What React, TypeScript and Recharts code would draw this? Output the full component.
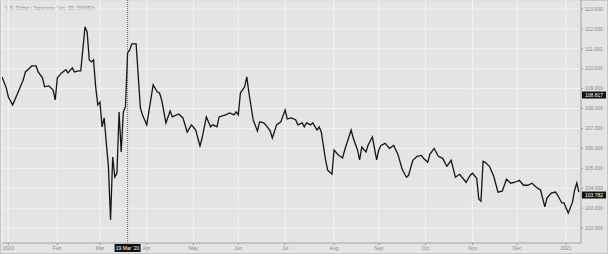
import { LineChart, Line, XAxis, YAxis, CartesianGrid, ReferenceLine } from 'recharts';

// trading-day index (0 = 1 Jan 2020) and daily close
const days = [
  -3, -1, 0, 2, 3, 5, 7, 8, 9, 11, 13, 14, 16, 17, 19, 21, 22, 23, 25, 27, 28, 30, 31, 33, 34,
  36, 37, 38, 39, 40, 41, 42, 43, 44, 45, 46, 47, 48, 49, 50, 51, 52, 53, 54, 55, 56, 57, 58, 60,
  62, 63, 65, 68, 70, 71, 72, 74, 76, 77, 80, 82, 84, 86, 88, 90, 91, 93, 95, 96, 98, 99, 102,
  104, 106, 107, 108, 109, 111, 112, 113, 115, 117, 118, 120, 122, 123, 124, 126, 128, 130, 131,
  133, 135, 136, 138, 139, 140, 142, 143, 145, 146, 147, 149, 150, 152, 153, 155, 157, 158, 161,
  162, 164, 165, 166, 168, 169, 171, 173, 174, 175, 177, 179, 181, 183, 185, 187, 188, 190, 192,
  194, 195, 197, 198, 200, 202, 204, 206, 208, 210, 212, 215, 217, 218, 220, 221, 222, 223, 224,
  226, 228, 230, 232, 234, 236, 238, 240, 242, 244, 246, 248, 250, 252, 253, 255, 257, 258, 260,
  261, 263, 265, 266, 267, 268,
];
const closes = [
  109.59, 109.04, 108.58, 108.18, 108.43, 108.93, 109.44, 109.84, 109.94, 110.14, 110.14, 109.84,
  109.54, 109.09, 109.14, 108.93, 108.43, 109.54, 109.79, 109.95, 109.79, 110.04, 109.84, 109.89,
  109.89, 112.1, 111.85, 110.44, 110.34, 110.44, 109.09, 108.18, 108.33, 107.08, 107.53, 106.27,
  105.07, 102.4, 105.57, 104.56, 104.76, 107.83, 105.82, 107.83, 108.08, 110.79, 110.94, 111.25,
  111.25, 108.03, 107.68, 107.18, 109.19, 108.83, 108.78, 108.43, 107.28, 107.88, 107.58, 107.73,
  107.53, 106.82, 107.18, 106.92, 106.12, 106.52, 107.58, 107.08, 107.18, 107.08, 107.58, 107.68,
  107.78, 107.68, 107.83, 107.68, 108.78, 109.09, 109.59, 108.78, 107.43, 106.87, 107.33, 107.28,
  107.03, 106.87, 106.52, 107.18, 107.33, 107.93, 107.48, 107.53, 107.43, 107.18, 107.28, 107.08,
  107.28, 107.18, 107.28, 106.92, 107.08, 106.82, 105.42, 104.91, 104.71, 105.92, 105.67, 105.52,
  105.92, 106.92, 106.52, 105.92, 105.42, 106.07, 105.82, 106.17, 106.57, 105.42, 105.92, 106.15,
  106.25, 106.0, 106.15, 105.7, 104.95, 104.55, 104.65, 105.4, 105.6, 105.65, 105.5, 105.3, 105.7,
  106.0, 105.6, 105.5, 105.1, 105.4, 104.55, 104.7, 104.3, 104.65, 104.75, 104.5, 103.45, 103.35,
  105.35, 105.3, 105.1, 104.6, 103.8, 103.85, 104.45, 104.25, 104.3, 104.4, 104.15, 104.15, 104.25,
  104.05, 103.91, 103.06, 103.51, 103.76, 103.81, 103.66, 103.26, 103.26, 102.75, 103.3, 103.9,
  104.26, 103.8,
];

const monthTicks = [0, 23, 43, 65, 87, 108, 130, 153, 174, 196, 218, 239, 262];
const monthLabels = ['2020', 'Feb', 'Mar', 'Apr', 'May', 'Jun', 'Jul', 'Aug', 'Sep', 'Oct', 'Nov', 'Dec', '2021'];
const priceTicks = [102, 103, 104, 105, 106, 107, 108, 109, 110, 111, 112, 113];

const crossDay = 56;
const crossLabel = "19 Mar '20";
const crossPrice = 108.68;
const crossPriceLabel = '108.817';
const lastPrice = 103.66;
const lastPriceLabel = '103.782';

const data = days.map((d, i) => ({ d, close: closes[i] }));

const FONT = '"Liberation Sans", Arial, sans-serif';

function PriceTag(props: any) {
  const { viewBox, text } = props;
  if (!viewBox) return null;
  const x = viewBox.x + viewBox.width + 1;
  const y = viewBox.y;
  return (
    <g>
      <rect x={x} y={y - 3.5} width={24} height={7} fill="#111" />
      <text x={x + 12} y={y + 1.8} textAnchor="middle" fontSize={5} fill="#fff" fontFamily={FONT}>
        {text}
      </text>
    </g>
  );
}

function DateTag(props: any) {
  const { viewBox, text } = props;
  if (!viewBox) return null;
  const x = viewBox.x;
  const y = viewBox.y + viewBox.height + 1;
  return (
    <g>
      <rect x={x - 13} y={y} width={26} height={8} fill="#111" />
      <text x={x} y={y + 6} textAnchor="middle" fontSize={5} fill="#fff" fontFamily={FONT}>
        {text}
      </text>
    </g>
  );
}

export default function App() {
  return (
    <div
      style={{
        position: 'absolute',
        left: 0,
        top: 0,
        width: 608,
        height: 254,
        background: '#e4e4e4',
        boxShadow: 'inset 0 0 0 1px #c6c6c6',
      }}
    >
      <div
        style={{
          position: 'absolute',
          left: 5,
          top: 5,
          fontSize: 5,
          color: '#7a7a7a',
          fontFamily: FONT,
          whiteSpace: 'nowrap',
        }}
      >
        U.S. Dollar / Japanese Yen, 1D, OANDA
      </div>
      <LineChart width={608} height={254} data={data} margin={{ top: 0, right: 0, bottom: 0, left: 2 }}>
        <CartesianGrid stroke="#f3f3f3" strokeWidth={1} />
        <XAxis
          dataKey="d"
          type="number"
          domain={[-3, 269]}
          ticks={monthTicks}
          tickFormatter={(v: number) => monthLabels[monthTicks.indexOf(v)] ?? ''}
          height={11}
          tickSize={2}
          tickMargin={1}
          axisLine={{ stroke: '#9a9a9a' }}
          tickLine={{ stroke: '#9a9a9a' }}
          tick={{ fontSize: 5, fill: '#8a8a8a', fontFamily: FONT }}
          interval={0}
          allowDataOverflow
        />
        <YAxis
          orientation="right"
          type="number"
          domain={[101.25, 113.45]}
          ticks={priceTicks}
          tickFormatter={(v: number) => v.toFixed(3)}
          width={27}
          tickSize={2}
          tickMargin={2}
          axisLine={{ stroke: '#9a9a9a' }}
          tickLine={{ stroke: '#9a9a9a' }}
          tick={{ fontSize: 5, fill: '#8a8a8a', fontFamily: FONT, textAnchor: 'start' }}
          interval={0}
          allowDataOverflow
        />
        <ReferenceLine
          x={crossDay}
          stroke="#6a6a6a"
          strokeDasharray="1 1"
          label={<DateTag text={crossLabel} />}
        />
        <Line
          type="linear"
          dataKey="close"
          stroke="#151515"
          strokeWidth={1.3}
          dot={false}
          isAnimationActive={false}
        />
        <ReferenceLine y={crossPrice} stroke="none" label={<PriceTag text={crossPriceLabel} />} />
        <ReferenceLine y={lastPrice} stroke="none" label={<PriceTag text={lastPriceLabel} />} />
      </LineChart>
    </div>
  );
}
